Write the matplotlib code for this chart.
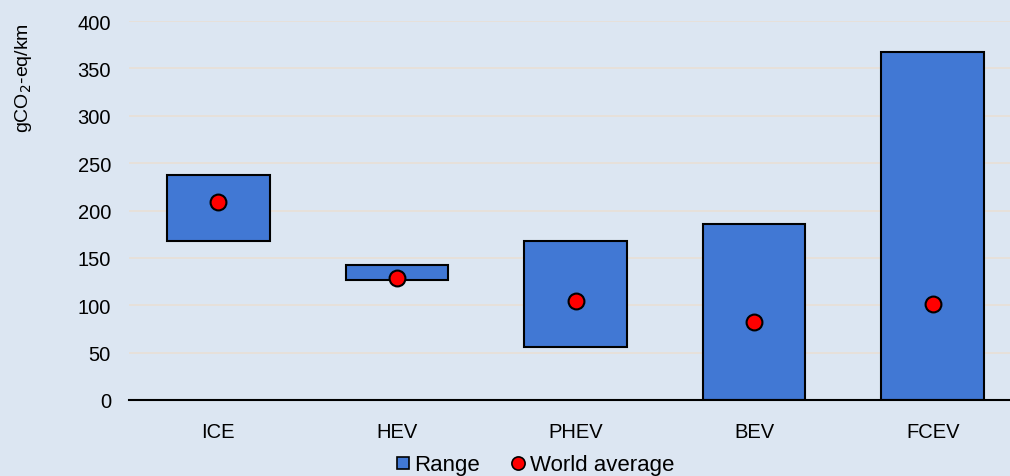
import numpy as np
import matplotlib.pyplot as plt
from matplotlib.lines import Line2D

# life-cycle emissions by powertrain (gCO2-eq/km)
vehicles = ['ICE', 'HEV', 'PHEV', 'BEV', 'FCEV']
range_low = [168, 127, 56, 0, 0]
range_high = [237, 143, 168, 186, 367]
world_avg = [209, 129, 104, 82, 101]

plt.rcParams['font.family'] = ['Liberation Sans', 'DejaVu Sans']

bg = '#dce6f2'
fig = plt.figure(figsize=(10.1, 4.77), dpi=100, facecolor=bg)
ax = fig.add_axes([129 / 1010, 1 - 401 / 477, 893 / 1010, 379 / 477], facecolor=bg)

x = np.arange(len(vehicles))
heights = np.array(range_high) - np.array(range_low)
ax.bar(x, heights, bottom=range_low, width=0.575, color='#4178d4',
       edgecolor='black', linewidth=1.5, zorder=3)
ax.scatter(x, world_avg, s=130, color='#ff0000', edgecolors='black',
           linewidths=1.5, zorder=4)

ax.set_xlim(-0.5, len(vehicles) - 0.5)
ax.set_ylim(0, 400)
ax.set_yticks(range(0, 401, 50))
ax.set_xticks(x)
ax.set_xticklabels(vehicles)
ax.tick_params(axis='both', length=0, labelsize=14.5)
ax.tick_params(axis='x', pad=16)
ax.tick_params(axis='y', pad=13)
ax.grid(axis='y', color='#e8e0d8', linewidth=1.3, zorder=0)
for side in ['top', 'right', 'left']:
    ax.spines[side].set_visible(False)
ax.spines['bottom'].set_linewidth(1.5)
ax.spines['bottom'].set_zorder(5)

fig.text(23 / 1010, 1 - 78 / 477, 'gCO$_2$-eq/km', rotation=90,
         ha='center', va='center', fontsize=14)

handles = [
    Line2D([], [], marker='s', linestyle='none', markersize=8.5,
           markerfacecolor='#4178d4', markeredgecolor='black', markeredgewidth=1.2),
    Line2D([], [], marker='o', linestyle='none', markersize=9.5,
           markerfacecolor='#ff0000', markeredgecolor='black', markeredgewidth=1.2),
]
fig.legend(handles, ['Range', 'World average'], loc='center',
           bbox_to_anchor=(0.528, 1 - 466 / 477), ncol=2, frameon=False,
           fontsize=16, handletextpad=0.05, columnspacing=1.3, handlelength=0.9,
           borderpad=0)

fig.savefig('out.png', dpi=100, facecolor=bg)
